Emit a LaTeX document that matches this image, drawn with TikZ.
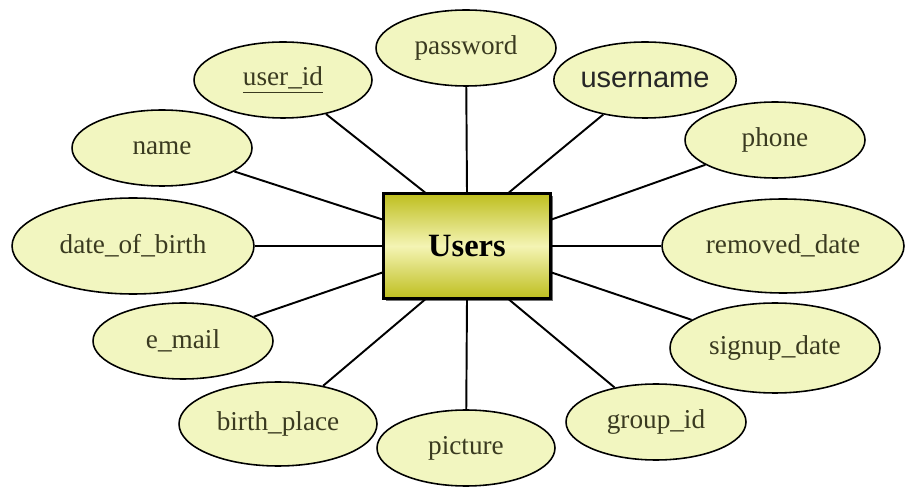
\documentclass[tikz,border=0pt]{standalone}
\usepackage{fontspec}
\setmainfont{Liberation Serif}
\newfontfamily\sansattr{Liberation Sans}
\usetikzlibrary{shapes.geometric,shadows}
\definecolor{attrfill}{RGB}{242,246,192}
\definecolor{attrtext}{RGB}{58,58,32}
\definecolor{boxolive}{RGB}{190,190,30}
\definecolor{boxlight}{RGB}{244,244,180}
\tikzset{
	attr/.style={draw, ellipse, line width=0.9pt, fill=attrfill, text=attrtext, inner sep=0pt,
		font=\fontsize{15.5}{18}\selectfont},
	entitybox/.style={draw, line width=1.2pt, top color=boxolive, bottom color=boxolive, middle color=boxlight,
		minimum width=3.34cm, minimum height=2.1cm, font=\bfseries\fontsize{18.5}{22}\selectfont,
		drop shadow={shadow xshift=0.5mm, shadow yshift=-0.5mm, fill=black!55, opacity=1}}
}

\begin{document}
\begin{tikzpicture}[x=0.02cm, y=-0.02cm, line width=1.1pt]
	\useasboundingbox (0,0) rectangle (906,489);
	\node[entitybox] at (467,246) (users) {Users};

	\node[attr, minimum width=3.6cm, minimum height=1.52cm] at (466,48) (password) {password};
	\node[attr, minimum width=3.56cm, minimum height=1.52cm] at (283,80) (user-id) {\underline{user\_id}};
	\node[attr, minimum width=3.64cm, minimum height=1.52cm, font=\sansattr\fontsize{16.5}{19}\selectfont, text=black!85] at (645,80) (username) {username};
	\node[attr, minimum width=3.6cm, minimum height=1.52cm] at (162,148) (name) {name};
	\node[attr, minimum width=3.6cm, minimum height=1.52cm] at (775,140) (phone) {phone};
	\node[attr, minimum width=4.84cm, minimum height=1.92cm] at (133,246) (date-of-birth) {date\_of\_birth};
	\node[attr, minimum width=4.84cm, minimum height=1.88cm] at (783,246) (removed-date) {removed\_date};
	\node[attr, minimum width=3.6cm, minimum height=1.52cm] at (183,341) (e-mail) {e\_mail};
	\node[attr, minimum width=4.2cm, minimum height=1.8cm] at (775,348) (signup-date) {signup\_date};
	\node[attr, minimum width=3.96cm, minimum height=1.68cm] at (278,424) (birth-place) {birth\_place};
	\node[attr, minimum width=3.56cm, minimum height=1.52cm] at (466,448) (picture) {picture};
	\node[attr, minimum width=3.6cm, minimum height=1.52cm] at (656,422) (group-id) {group\_id};

	% top side
	\draw ([xshift=-8.4mm]users.north) to (user-id);
	\draw (users.north) to (password);
	\draw ([xshift=8.4mm]users.north) to (username);
	% left side
	\draw ([yshift=5.3mm]users.west) to (name);
	\draw (users.west) to (date-of-birth);
	\draw ([yshift=-5.3mm]users.west) to (e-mail);
	% right side
	\draw ([yshift=5.3mm]users.east) to (phone);
	\draw (users.east) to (removed-date);
	\draw ([yshift=-5.3mm]users.east) to (signup-date);
	% bottom side
	\draw ([xshift=-8.4mm]users.south) to (birth-place);
	\draw (users.south) to (picture);
	\draw ([xshift=8.4mm]users.south) to (group-id);
\end{tikzpicture}
\end{document}
